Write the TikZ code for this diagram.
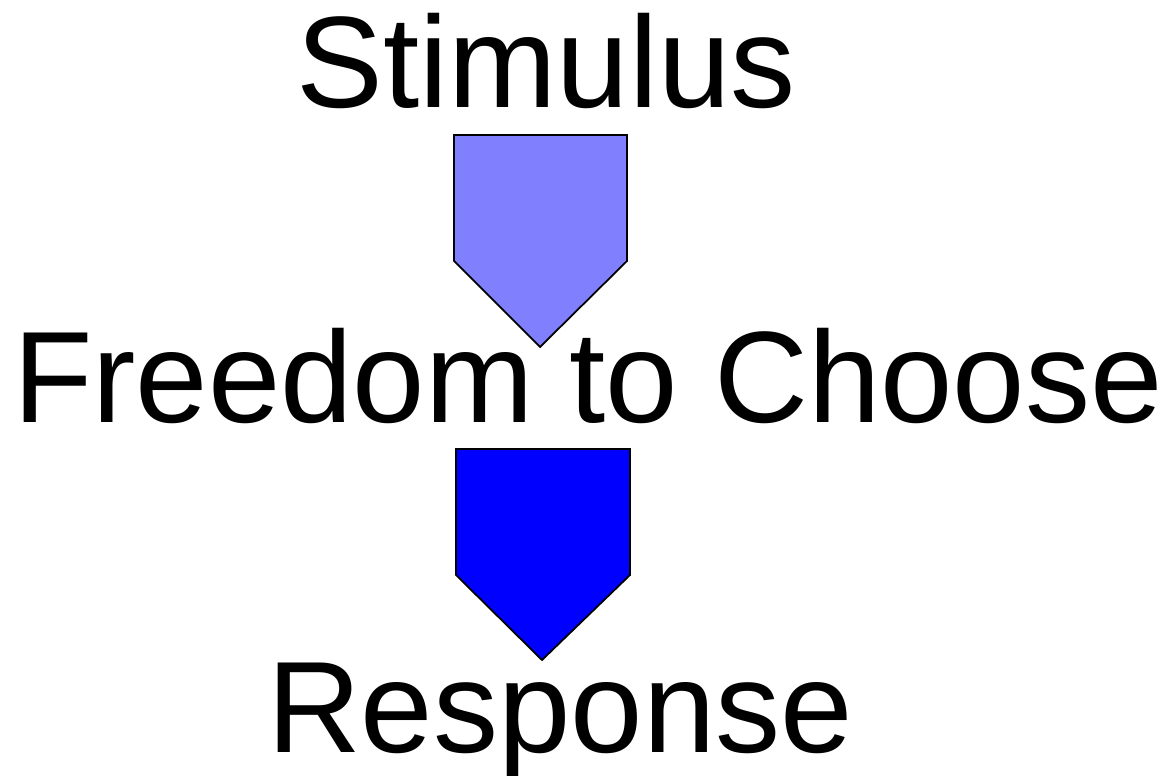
\documentclass[tikz,border=0pt]{standalone}
\usepackage{fontspec}
\setmainfont{Liberation Sans}
\usetikzlibrary{positioning}

\definecolor{lightblue}{HTML}{8080FF}
\definecolor{fullblue}{HTML}{0000FF}

\begin{document}
\begin{tikzpicture}[x=0.01cm,y=-0.01cm,
    word/.style={anchor=base,inner sep=0pt,font=\fontsize{37}{44}\selectfont},
    blockarrow/.style={draw=black,line width=0.5pt,line join=miter}]
  \useasboundingbox (0,0) rectangle (1164,776);
  \node[word] (stim) at (546,108) {Stimulus};
  \node[word] (free) at (588,422) {Freedom to Choose};
  \node[word] (resp) at (560,752) {Response};
  % block arrows between the words
  \coordinate (tip1) at (540,347);
  \coordinate (tip2) at (542,660);
  \draw[blockarrow,fill=lightblue] (454,135) -- (627,135) -- (627,261)
    -- (tip1) -- (454,261) -- cycle;
  \draw[blockarrow,fill=fullblue] (456,449) -- (630,449) -- (630,575)
    -- (tip2) -- (456,575) -- cycle;
\end{tikzpicture}
\end{document}
